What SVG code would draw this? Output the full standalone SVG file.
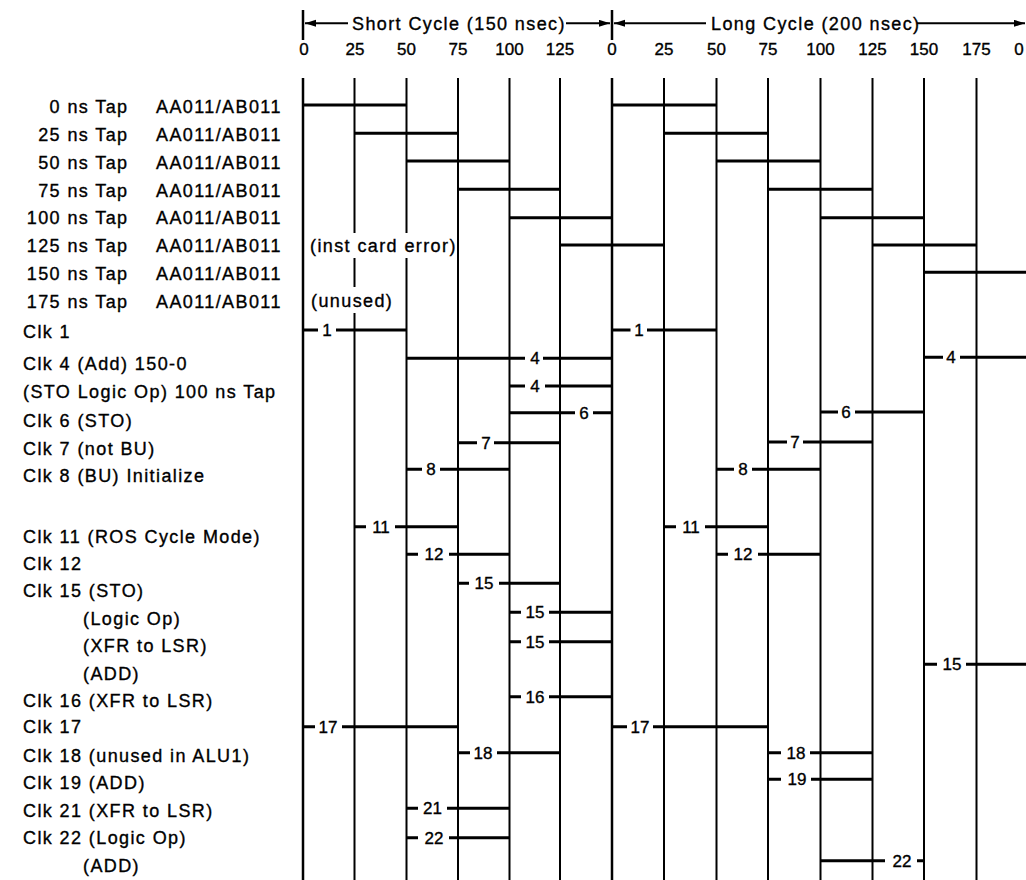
<svg xmlns="http://www.w3.org/2000/svg" width="1026" height="880" viewBox="0 0 1026 880">
<defs>
<marker id="ah" markerUnits="userSpaceOnUse" markerWidth="12" markerHeight="8" refX="11" refY="3.5" orient="auto-start-reverse">
<path d="M0,0 L11,3.5 L0,7 z" fill="#000"/>
</marker>
</defs>
<style>
text{font-family:"Liberation Sans",Arial,Helvetica,sans-serif;fill:#000;stroke:#000;stroke-width:0.35px}
.lab{font-size:18px;letter-spacing:1.4px}
.num{font-size:17px;text-anchor:middle}
.in{font-size:17px;text-anchor:middle}
.r{text-anchor:end}
.v{stroke:#000;stroke-width:2;fill:none}
.v0{stroke:#000;stroke-width:2.5;fill:none}
.s{stroke:#000;stroke-width:3;fill:none}
.h{stroke:#000;stroke-width:2;fill:none}
</style>
<rect width="1026" height="880" fill="#fff"/>

<g id="header">
<line class="h" x1="305" y1="23.3" x2="348" y2="23.3" marker-start="url(#ah)"/>
<text class="lab" x="352" y="29.5">Short Cycle (150 nsec)</text>
<line class="h" x1="566" y1="23.3" x2="610" y2="23.3" marker-end="url(#ah)"/>
<line class="h" x1="614" y1="23.3" x2="706" y2="23.3" marker-start="url(#ah)"/>
<text class="lab" x="711" y="29.5">Long Cycle (200 nsec)</text>
<line class="h" x1="917" y1="23.3" x2="1025" y2="23.3" marker-end="url(#ah)"/>
</g>

<g id="scale">
<text class="num" x="304" y="55">0</text>
<text class="num" x="355" y="55">25</text>
<text class="num" x="406.5" y="55">50</text>
<text class="num" x="458" y="55">75</text>
<text class="num" x="509.5" y="55">100</text>
<text class="num" x="560" y="55">125</text>
<text class="num" x="612" y="55">0</text>
<text class="num" x="664" y="55">25</text>
<text class="num" x="716.5" y="55">50</text>
<text class="num" x="768" y="55">75</text>
<text class="num" x="820.5" y="55">100</text>
<text class="num" x="872.5" y="55">125</text>
<text class="num" x="924" y="55">150</text>
<text class="num" x="976.5" y="55">175</text>
<text class="num" x="1019" y="55">0</text>
</g>

<g id="gridlines">
<path class="v0" d="M303,10V40M303,78V880M612,10V40M612,78V880"/>
<path class="v" d="M354.5,78V233M354.5,258V287M354.5,313V880M406.5,78V233M406.5,258V880M458,78V880M509.5,78V880M560,78V880M664,78V880M716.5,78V880M768,78V880M820.5,78V880M872.5,78V880M924,78V880M976.5,78V880"/>
</g>

<g id="labels">
<text class="lab r" x="128.5" y="113">0 ns Tap</text>
<text class="lab r" x="128.5" y="140.5">25 ns Tap</text>
<text class="lab r" x="128.5" y="168.5">50 ns Tap</text>
<text class="lab r" x="128.5" y="196.5">75 ns Tap</text>
<text class="lab r" x="128.5" y="224">100 ns Tap</text>
<text class="lab r" x="128.5" y="252">125 ns Tap</text>
<text class="lab r" x="128.5" y="279.5">150 ns Tap</text>
<text class="lab r" x="128.5" y="308">175 ns Tap</text>
<text class="lab" x="156" y="113">AA011/AB011</text>
<text class="lab" x="156" y="140.5">AA011/AB011</text>
<text class="lab" x="156" y="168.5">AA011/AB011</text>
<text class="lab" x="156" y="196.5">AA011/AB011</text>
<text class="lab" x="156" y="224">AA011/AB011</text>
<text class="lab" x="156" y="252">AA011/AB011</text>
<text class="lab" x="156" y="279.5">AA011/AB011</text>
<text class="lab" x="156" y="308">AA011/AB011</text>
<text class="lab" x="23" y="338">Clk 1</text>
<text class="lab" x="23" y="369.5">Clk 4 (Add) 150-0</text>
<text class="lab" x="23" y="398">(STO Logic Op) 100 ns Tap</text>
<text class="lab" x="23" y="426.5">Clk 6 (STO)</text>
<text class="lab" x="23" y="454.5">Clk 7 (not BU)</text>
<text class="lab" x="23" y="481.5">Clk 8 (BU) Initialize</text>
<text class="lab" x="23" y="543">Clk 11 (ROS Cycle Mode)</text>
<text class="lab" x="23" y="570">Clk 12</text>
<text class="lab" x="23" y="597">Clk 15 (STO)</text>
<text class="lab" x="83" y="624.5">(Logic Op)</text>
<text class="lab" x="83" y="652">(XFR to LSR)</text>
<text class="lab" x="83" y="679.5">(ADD)</text>
<text class="lab" x="23" y="706.5">Clk 16 (XFR to LSR)</text>
<text class="lab" x="23" y="733">Clk 17</text>
<text class="lab" x="23" y="761.5">Clk 18 (unused in ALU1)</text>
<text class="lab" x="23" y="789">Clk 19 (ADD)</text>
<text class="lab" x="23" y="816.5">Clk 21 (XFR to LSR)</text>
<text class="lab" x="23" y="844">Clk 22 (Logic Op)</text>
<text class="lab" x="83" y="871.5">(ADD)</text>
<text class="lab" x="310" y="252">(inst card error)</text>
<text class="lab" x="311" y="306.5">(unused)</text>
</g>

<g id="connectors">
<g id="taps">
<path class="s" d="M303,105H406.5M612,105H716.5"/>
<path class="s" d="M354.5,133.3H458M664,133.3H768"/>
<path class="s" d="M406.5,161H509.5M716.5,161H820.5"/>
<path class="s" d="M458,189.3H560M768,189.3H872.5"/>
<path class="s" d="M509.5,217.7H612M820.5,217.7H924"/>
<path class="s" d="M560,245H664M872.5,245H976.5"/>
<path class="s" d="M924,272.3H1026"/>
</g>
<g id="clk1">
<path class="s" d="M303,330H318M336,330H406.5M612,330H630.5M647,330H716.5"/>
<text class="in" x="327" y="336">1</text>
<text class="in" x="639" y="336">1</text>
</g>
<g id="clk4">
<path class="s" d="M406.5,358.3H525M543,358.3H612M924,357.3H943M960,357.3H1026"/>
<text class="in" x="535" y="364.3">4</text>
<text class="in" x="951" y="363.3">4</text>
</g>
<g id="sto-logic">
<path class="s" d="M509.5,386H525M545,386H612"/>
<text class="in" x="535" y="392">4</text>
</g>
<g id="clk6">
<path class="s" d="M509.5,412.7H575M593,412.7H612M820.5,412H838M855,412H924"/>
<text class="in" x="584" y="418.7">6</text>
<text class="in" x="846" y="418">6</text>
</g>
<g id="clk7">
<path class="s" d="M458,442.7H477M494,442.7H560M768,442H787M803,442H872.5"/>
<text class="in" x="486" y="448.7">7</text>
<text class="in" x="795" y="448">7</text>
</g>
<g id="clk8">
<path class="s" d="M406.5,469.3H422M440,469.3H509.5M716.5,469.3H734M752,469.3H820.5"/>
<text class="in" x="431" y="475.3">8</text>
<text class="in" x="743" y="475.3">8</text>
</g>
<g id="clk11">
<path class="s" d="M354.5,526.7H366M395,526.7H458M664,526.7H676M705,526.7H768"/>
<text class="in" x="381" y="532.7">11</text>
<text class="in" x="691" y="532.7">11</text>
</g>
<g id="clk12">
<path class="s" d="M406.5,554.3H418M449,554.3H509.5M716.5,554.3H728M758,554.3H820.5"/>
<text class="in" x="434" y="560.3">12</text>
<text class="in" x="743" y="560.3">12</text>
</g>
<g id="clk15-sto">
<path class="s" d="M458,583.3H469M499,583.3H560"/>
<text class="in" x="484" y="589.3">15</text>
</g>
<g id="clk15-logic">
<path class="s" d="M509.5,612.3H521M549,612.3H612"/>
<text class="in" x="535" y="618.3">15</text>
</g>
<g id="clk15-xfr">
<path class="s" d="M509.5,641.7H521M549,641.7H612"/>
<text class="in" x="535" y="647.7">15</text>
</g>
<g id="clk15-add">
<path class="s" d="M924,664.3H937M966,664.3H1026"/>
<text class="in" x="952" y="670.3">15</text>
</g>
<g id="clk16">
<path class="s" d="M509.5,696.7H521M549,696.7H612"/>
<text class="in" x="535" y="702.7">16</text>
</g>
<g id="clk17">
<path class="s" d="M303,726.7H315M342,726.7H458M612,726.7H627M653,726.7H768"/>
<text class="in" x="328" y="732.7">17</text>
<text class="in" x="640" y="732.7">17</text>
</g>
<g id="clk18">
<path class="s" d="M458,752.7H470M497,752.7H560M768,752.7H781M810,752.7H872.5"/>
<text class="in" x="483" y="758.7">18</text>
<text class="in" x="796" y="758.7">18</text>
</g>
<g id="clk19">
<path class="s" d="M768,779.3H781M811,779.3H872.5"/>
<text class="in" x="797" y="785.3">19</text>
</g>
<g id="clk21">
<path class="s" d="M406.5,808.3H418M447,808.3H509.5"/>
<text class="in" x="432.5" y="814.3">21</text>
</g>
<g id="clk22">
<path class="s" d="M406.5,837.7H418M449,837.7H509.5"/>
<text class="in" x="434" y="843.7">22</text>
</g>
<g id="clk22-add">
<path class="s" d="M820.5,860.7H885M917,860.7H924"/>
<text class="in" x="902" y="866.7">22</text>
</g>
</g>
</svg>
